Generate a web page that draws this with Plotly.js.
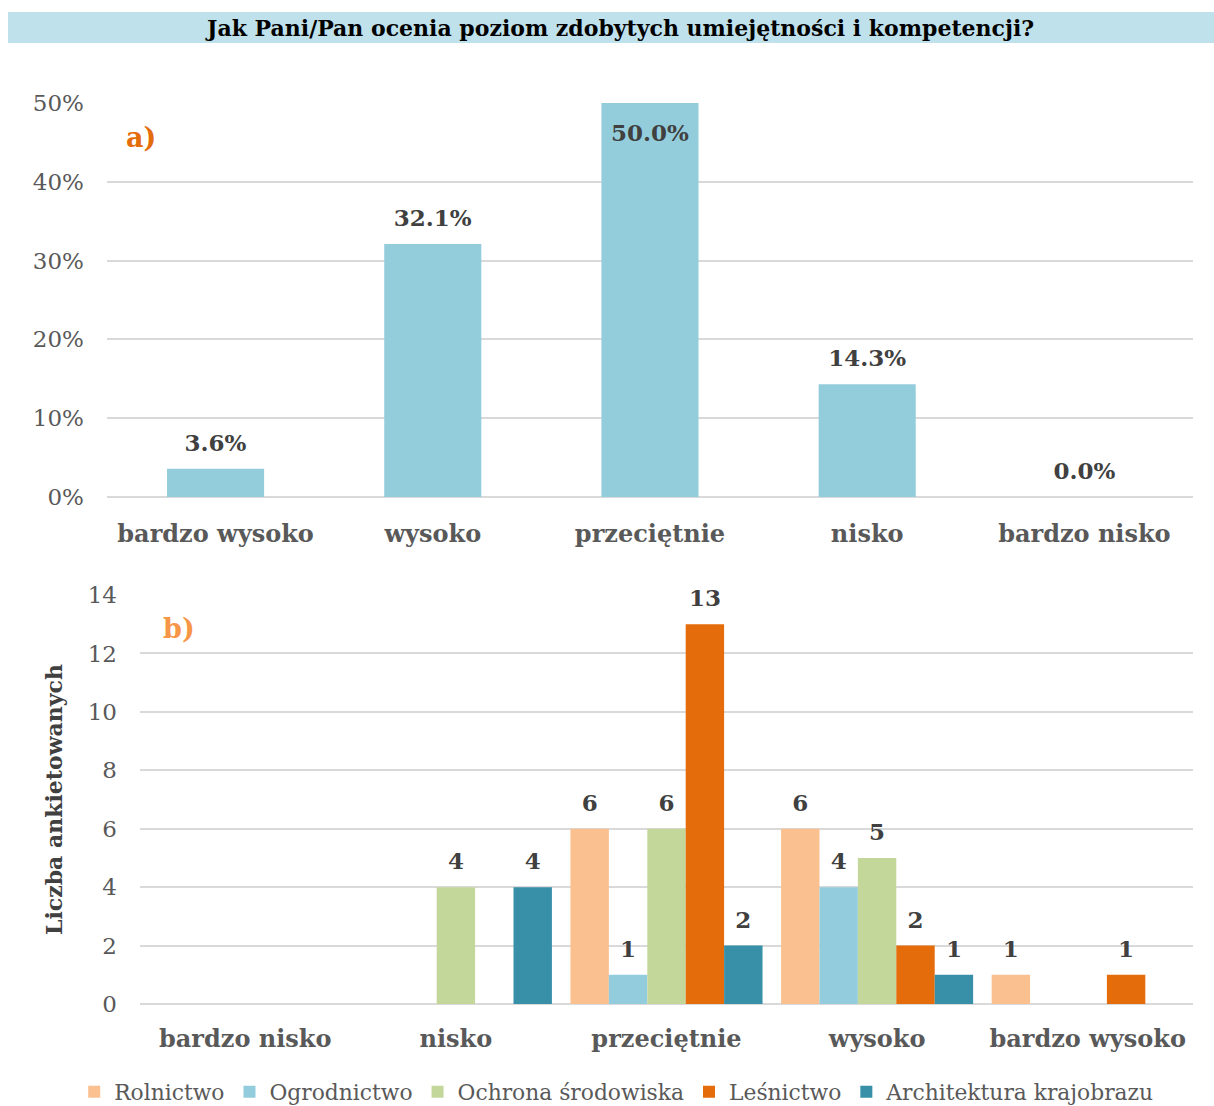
<!DOCTYPE html>
<html><head><meta charset="utf-8">
<script src="https://cdn.plot.ly/plotly-3.0.1.min.js"></script>
<style>html,body{margin:0;padding:0;background:#fff}#chart{width:1214px;height:1106px}</style>
</head><body><div id="chart"></div>
<script>
const titleText = "Jak Pani/Pan ocenia poziom zdobytych umiejętności i kompetencji?";
const catsA = ["bardzo wysoko", "wysoko", "przeciętnie", "nisko", "bardzo nisko"];
const valsA = [0.036, 0.321, 0.500, 0.143, 0.000];
const yTicksA = [0, 0.1, 0.2, 0.3, 0.4, 0.5];

const catsB = ["bardzo nisko", "nisko", "przeciętnie", "wysoko", "bardzo wysoko"];
const seriesNames = ["Rolnictwo", "Ogrodnictwo", "Ochrona środowiska", "Leśnictwo", "Architektura krajobrazu"];
const rolnictwo = [0, 0, 6, 6, 1];
const ogrodnictwo = [0, 0, 1, 4, 0];
const ochrona = [0, 4, 6, 5, 0];
const lesnictwo = [0, 0, 13, 2, 1];
const architektura = [0, 4, 2, 1, 0];
const seriesColors = ["#FAC090", "#93CDDD", "#C4D79B", "#E46C0A", "#378FA8"];

const FONT = "DejaVu Serif, Liberation Serif, serif";
const big = s => "<span style='font-size:23px'>" + s + "</span>";
const traces = [];
traces.push({
  type: "bar", x: catsA, y: valsA, xaxis: "x", yaxis: "y",
  width: 0.447,
  marker: {color: "#93CDDC"}, showlegend: false,
  text: valsA.map(v => {
    const s = big((v*100).toFixed(1) + "%");
    return v >= 0.5 ? " <br> <br>" + s : s + "<br> ";
  }),
  textposition: valsA.map(v => v >= 0.5 ? "inside" : "outside"),
  insidetextanchor: "end",
  textfont: {family: FONT, size: 10, color: "#404040", weight: "bold"},
  cliponaxis: false, hoverinfo: "skip"
});
const seriesVals = [rolnictwo, ogrodnictwo, ochrona, lesnictwo, architektura];
seriesVals.forEach((vals, i) => {
  traces.push({
    type: "bar", name: seriesNames[i], x: catsB, y: vals, xaxis: "x2", yaxis: "y2",
    marker: {color: seriesColors[i]},
    text: vals.map(v => v > 0 ? big(String(v)) + "<br> " : ""),
    textposition: "outside",
    textfont: {family: FONT, size: 10, color: "#404040", weight: "bold"},
    cliponaxis: false, hoverinfo: "skip"
  });
});

const layout = {
  width: 1214, height: 1106,
  margin: {l: 0, r: 0, t: 0, b: 0, autoexpand: false},
  paper_bgcolor: "#fff", plot_bgcolor: "#fff",
  font: {family: FONT, color: "#595959", size: 22},
  barmode: "group",
  bargap: 0.088, bargroupgap: 0,
  showlegend: true,
  legend: {orientation: "h", x: 0.508, xanchor: "center", y: 1 - 1092/1106, yanchor: "middle",
           font: {family: FONT, size: 21.8, color: "#595959"}, itemwidth: 30, traceorder: "normal"},
  xaxis: {domain: [0.0881, 0.9827], anchor: "y", showgrid: false, showline: false, zeroline: false,
          tickfont: {family: FONT, size: 24, color: "#595959", weight: "bold"}, ticks: "", ticklabelstandoff: 20},
  yaxis: {domain: [0.5506, 0.9069], anchor: "x", range: [0, 0.5], tickvals: yTicksA, tickformat: ".0%",
          showgrid: true, gridcolor: "#D9D9D9", gridwidth: 2, zeroline: true, zerolinecolor: "#D9D9D9", zerolinewidth: 2,
          showline: false, ticks: "", ticklabelstandoff: 22, tickfont: {family: FONT, size: 23, color: "#595959"}},
  xaxis2: {domain: [0.1153, 0.9827], anchor: "y2", showgrid: false, showline: false, zeroline: false,
          tickfont: {family: FONT, size: 24, color: "#595959", weight: "bold"}, ticks: "", ticklabelstandoff: 18},
  yaxis2: {domain: [0.0922, 0.4620], anchor: "x2", range: [0, 14], dtick: 2,
          showgrid: true, gridcolor: "#D9D9D9", gridwidth: 2, zeroline: true, zerolinecolor: "#D9D9D9", zerolinewidth: 2,
          showline: false, ticks: "", ticklabelstandoff: 22, tickfont: {family: FONT, size: 23, color: "#595959"},
          title: {text: "Liczba ankietowanych", standoff: 18, font: {family: FONT, size: 22, color: "#404040", weight: "bold"}}},
  shapes: [{type: "rect", xref: "paper", yref: "paper", x0: 8/1214, x1: 1, y0: 1 - 43/1106, y1: 1 - 12/1106,
            fillcolor: "#BFE1EB", line: {width: 0}, layer: "below"}],
  annotations: [
    {text: "<b>" + titleText + "</b>", xref: "paper", yref: "paper", x: 619/1214, y: 1 - 28/1106,
     xanchor: "center", yanchor: "middle", showarrow: false, font: {family: FONT, size: 22, color: "#000"}},
    {text: "<b>a)</b>", xref: "paper", yref: "paper", x: 124/1214, y: 1 - 138/1106, xanchor: "left", yanchor: "middle",
     showarrow: false, font: {family: FONT, size: 27, color: "#E46C0A"}},
    {text: "<b>b)</b>", xref: "paper", yref: "paper", x: 161/1214, y: 1 - 628/1106, xanchor: "left", yanchor: "middle",
     showarrow: false, font: {family: FONT, size: 27, color: "#F79646"}}
  ]
};
Plotly.newPlot("chart", traces, layout, {displayModeBar: false, staticPlot: true});
</script></body></html>
